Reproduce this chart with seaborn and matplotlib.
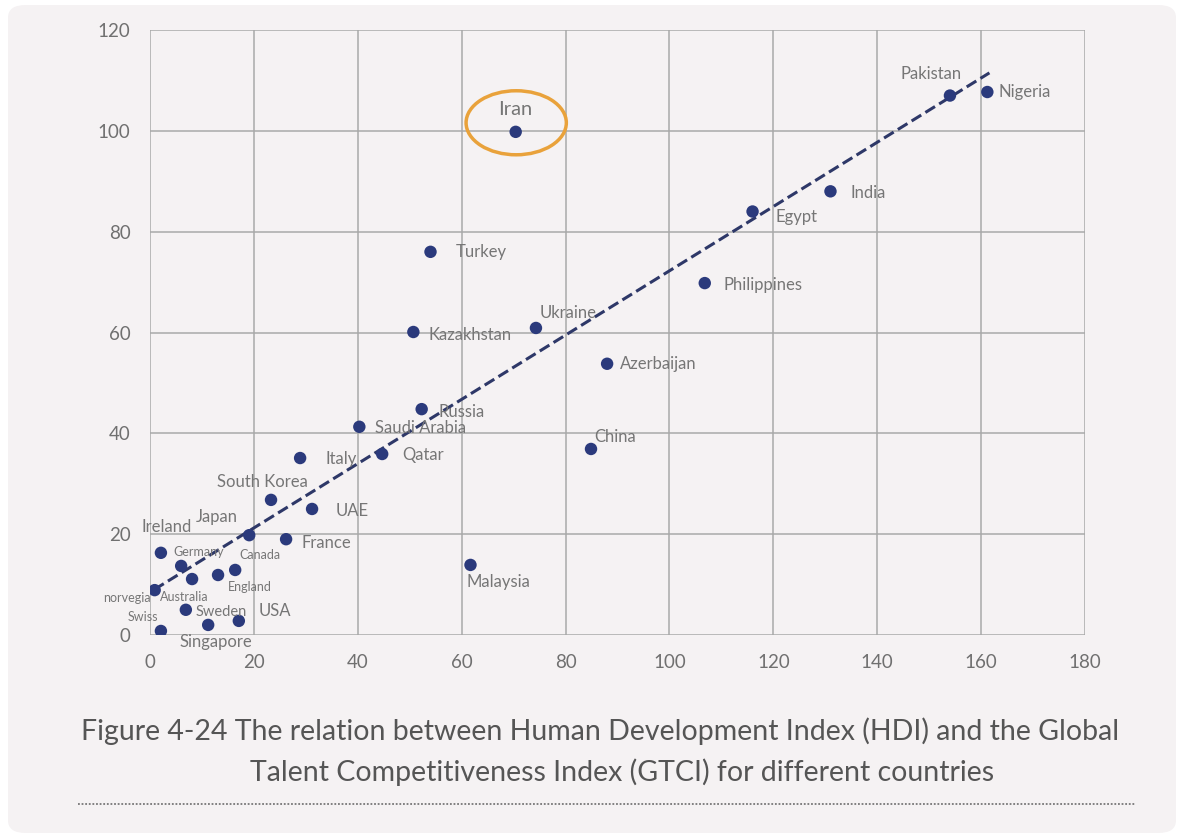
import numpy as np
import pandas as pd
import matplotlib
matplotlib.use('Agg')
from matplotlib import pyplot as plt
from matplotlib.patches import Ellipse, FancyBboxPatch
from matplotlib.lines import Line2D
import seaborn as sns

# values (x = GTCI rank, y = HDI rank)
countries = ['Iran', 'Pakistan', 'Nigeria', 'India', 'Egypt', 'Philippines', 'Turkey',
             'Ukraine', 'Kazakhstan', 'Azerbaijan', 'Russia', 'Saudi Arabia', 'Qatar',
             'China', 'Italy', 'South Korea', 'UAE', 'Japan', 'France', 'Malaysia',
             'Ireland', 'Germany', 'Canada', 'England', 'Australia', 'norvegia',
             'Swiss', 'Sweden', 'USA', 'Singapore']
gtci = [70.4, 154, 161.2, 131, 116, 106.8, 54, 74.3, 50.7, 88, 52.3, 40.3, 44.7,
        84.9, 28.9, 23.3, 31.2, 19.1, 26.2, 61.7, 2.1, 6, 16.4, 13.1, 8.1, 0.9,
        2.1, 6.9, 17.1, 11.2]
hdi = [99.8, 107, 107.7, 88, 84, 69.8, 76, 60.9, 60.1, 53.8, 44.8, 41.3, 35.9,
       36.9, 35.1, 26.8, 25, 19.8, 19, 13.9, 16.3, 13.7, 12.9, 11.9, 11.1, 8.9,
       0.8, 5, 2.8, 2]

# dashed trend line end points
trend_x = [0.8, 161.6]
trend_y = [9, 111.5]

# label offsets in pixels (dx, dy up), alignment and size
label_style = {
    'Iran': (0, 22, 'center', 14.5), 'Pakistan': (-19, 22, 'center', 12),
    'Nigeria': (11, 0, 'left', 12), 'India': (20, -2, 'left', 12),
    'Egypt': (23, -5, 'left', 12), 'Philippines': (19, -2, 'left', 12),
    'Turkey': (25, 0, 'left', 12), 'Ukraine': (4, 15, 'left', 12),
    'Kazakhstan': (15, -3, 'left', 12), 'Azerbaijan': (13, 0, 'left', 12),
    'Russia': (17, -3, 'left', 12), 'Saudi Arabia': (16, -1, 'left', 12),
    'Qatar': (20, -1, 'left', 12), 'China': (3, 12, 'left', 12),
    'Italy': (25, -1, 'left', 12), 'South Korea': (-9, 18, 'center', 12),
    'UAE': (24, -2, 'left', 12), 'Japan': (-32, 18, 'center', 12),
    'France': (15, -4, 'left', 12), 'Malaysia': (-4, -17, 'left', 12),
    'Ireland': (6, 26, 'center', 12), 'Germany': (-8, 14, 'left', 9),
    'Canada': (4, 15, 'left', 9), 'England': (10, -12, 'left', 9),
    'Australia': (-32, -18, 'left', 9), 'norvegia': (-4, -8, 'right', 9),
    'Swiss': (-18, 14, 'center', 9), 'Sweden': (10, -2, 'left', 10.5),
    'USA': (20, 10, 'left', 12), 'Singapore': (8, -17, 'center', 12),
}

df = pd.DataFrame({'country': countries, 'gtci': gtci, 'hdi': hdi})
trend = pd.DataFrame({'x': trend_x, 'y': trend_y})

sns.set_style('white')
plt.rcParams['font.family'] = ['Lato', 'DejaVu Sans']

panel = '#f5f2f3'
navy = '#2b3a7c'
fig = plt.figure(figsize=(11.84, 8.38), dpi=100, facecolor='white')
fig.patches.append(FancyBboxPatch((8 / 1184, 5 / 838), 1168 / 1184, 828 / 838,
                                  boxstyle='round,pad=0,rounding_size=0.015',
                                  transform=fig.transFigure, facecolor=panel,
                                  edgecolor='none', zorder=-10))
ax = fig.add_axes([150 / 1184, 1 - 635 / 838, 935 / 1184, 605 / 838])
ax.set_facecolor(panel)
ax.set_zorder(2)

sns.lineplot(data=trend, x='x', y='y', ax=ax, color='#2e3868', linestyle='--',
             linewidth=2.2, zorder=3)
sns.scatterplot(data=df, x='gtci', y='hdi', ax=ax, color=navy, s=80,
                edgecolor='none', zorder=4)

for c, x, y in zip(countries, gtci, hdi):
    dx, dy, ha, fs = label_style[c]
    ax.annotate(c, (x, y), xytext=(dx, dy), textcoords='offset pixels',
                ha=ha, va='center', fontsize=fs, color='#767676', zorder=5)

ax.add_patch(Ellipse((70.5, 101.6), 19.3, 12.7, fill=False, edgecolor='#e9a23b',
                     linewidth=2.5, zorder=5))

ax.set_xlim(0, 180)
ax.set_ylim(0, 120)
ax.set_xticks(range(0, 181, 20))
ax.set_yticks(range(0, 121, 20))
ax.grid(True, color='#a9a9a9', linewidth=1.1)
for s in ax.spines.values():
    s.set_visible(False)
ax.tick_params(axis='both', length=0, labelsize=13.5, labelcolor='#707070', pad=14)
ax.set_xlabel('')
ax.set_ylabel('')

fig.text(600 / 1184, 1 - 731 / 838,
         'Figure 4-24 The relation between Human Development Index (HDI) and the Global',
         ha='center', va='center', fontsize=20.5, color='#555555')
fig.text(622 / 1184, 1 - 772 / 838,
         'Talent Competitiveness Index (GTCI) for different countries',
         ha='center', va='center', fontsize=20.5, color='#555555')
fig.add_artist(Line2D([78 / 1184, 1135 / 1184], [1 - 804 / 838, 1 - 804 / 838],
                      transform=fig.transFigure, color='#777777', linewidth=1.3,
                      linestyle=(0, (1, 1))))

fig.savefig('out.png', dpi=100, facecolor='white')
